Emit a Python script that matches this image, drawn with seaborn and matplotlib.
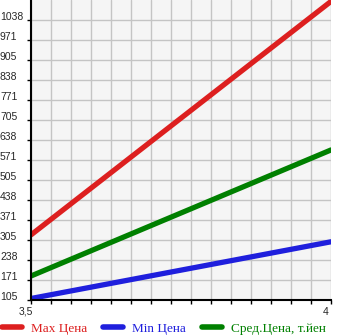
import matplotlib
matplotlib.use("Agg")
import matplotlib.pyplot as plt
import matplotlib.transforms as mtransforms
import seaborn as sns
import pandas as pd
import numpy as np
from matplotlib.lines import Line2D

x_vals = [3.5, 4.0]
max_price = [322, 1100]
min_price = [110, 299]
avg_price = [185, 605]
series_names = ["Max Цена", "Min Цена", "Сред.Цена, т.йен"]
colors = ["#dd1f1f", "#1f1fdd", "#008000"]
y_ticks = [105, 171, 238, 305, 371, 438, 505, 571, 638, 705, 771, 838, 905, 971, 1038]

sns.set_style("white")
plt.rcParams['font.family'] = ['Liberation Sans', 'DejaVu Sans']

df = pd.DataFrame({
    "x": x_vals * 3,
    "y": max_price + min_price + avg_price,
    "s": [series_names[0]] * 2 + [series_names[1]] * 2 + [series_names[2]] * 2,
})

fig = plt.figure(figsize=(3.45, 3.35), dpi=100)
ax = fig.add_axes([31/345, 35/335, 300/345, 300/335])
ax.set_facecolor("#f5f5f5")

sns.lineplot(data=df, x="x", y="y", hue="s", palette=dict(zip(series_names, colors)),
             linewidth=3.8, legend=False, ax=ax, solid_capstyle="round")

step = (1038 - 105) / 14
ax.set_ylim(105, 1038 + step)
ax.set_xlim(3.5, 4.0)
ax.set_yticks(y_ticks)
ax.set_yticklabels([str(v) for v in y_ticks])
xt = np.linspace(3.5, 4.0, 16)
ax.set_xticks(xt)
ax.set_xticklabels(["3,5"] + [""] * 14 + ["4"])
ax.grid(True, color="#c4c4c4", linewidth=1)
ax.set_axisbelow(True)
for s in ["top", "right"]:
    ax.spines[s].set_visible(False)
ax.spines["left"].set_linewidth(1.5)
ax.spines["bottom"].set_linewidth(1.5)
ax.spines["left"].set_color("black")
ax.spines["bottom"].set_color("black")
ax.tick_params(axis="both", which="both", length=3, width=1, color="black",
               labelsize=7.5, direction="out", left=True, bottom=True)
ax.tick_params(axis="x", pad=2)
ax.tick_params(axis="y", pad=(31 - 3 * 100 / 72) * 72 / 100)
for lbl in ax.get_yticklabels():
    lbl.set_horizontalalignment("left")
    lbl.set_verticalalignment("baseline")
shift = mtransforms.ScaledTranslation(-5 / 100, 0, fig.dpi_scale_trans)
for lbl in ax.get_xticklabels():
    lbl.set_transform(lbl.get_transform() + shift)
ax.set_xlabel("")
ax.set_ylabel("")

handles = [Line2D([0], [0], color=c, linewidth=4, solid_capstyle="round") for c in colors]
leg = fig.legend(handles, series_names, loc="lower left", bbox_to_anchor=(-0.005, -4 / 335),
                 ncol=3, frameon=False, handlelength=1.5, handletextpad=0.7,
                 columnspacing=1.2, borderpad=0.3, borderaxespad=0,
                 prop={"family": "Liberation Serif", "size": 9.5})
for t, c in zip(leg.get_texts(), colors):
    t.set_color(c)

fig.savefig("out.png", dpi=100, facecolor="white")
